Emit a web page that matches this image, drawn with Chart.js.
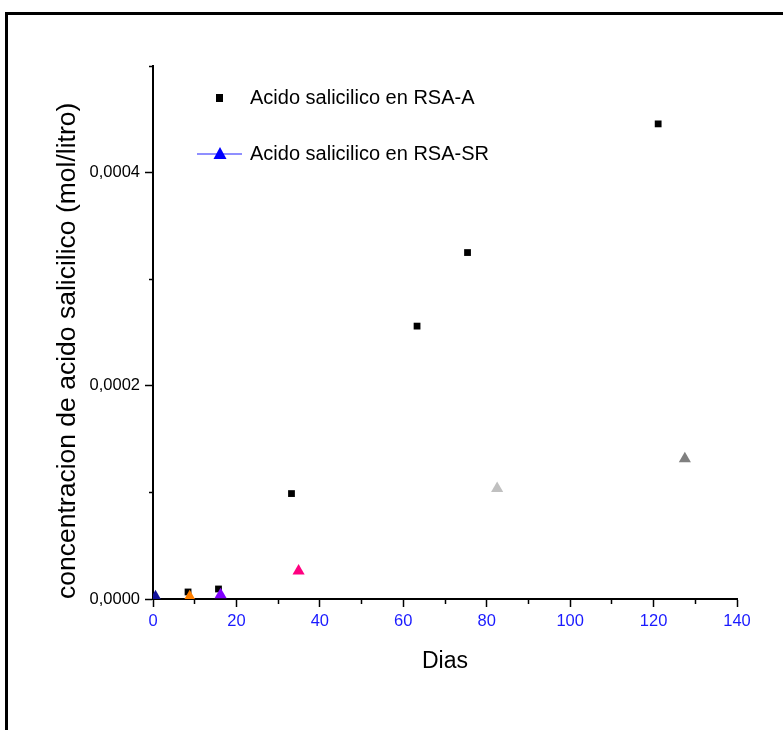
<!DOCTYPE html>
<html>
<head>
<meta charset="utf-8">
<script src="https://cdn.jsdelivr.net/npm/chart.js@4/dist/chart.umd.min.js"></script>
<style>
  html, body { margin: 0; padding: 0; background: #fff; overflow: hidden; }
  #frame {
    position: absolute; left: 5px; top: 12px; width: 900px; height: 900px;
    border-left: 3px solid #000; border-top: 3px solid #000;
  }
  #wrap { position: absolute; left: 0; top: 0; width: 783px; height: 730px; }
</style>
</head>
<body>
<div id="frame"></div>
<div id="wrap"><canvas id="grafico"></canvas></div>
<script>
// datos
const diasA = [8.4, 15.7, 33.2, 63.3, 75.4, 121.1];
const concA = [0.0000066, 0.0000094, 0.0000989, 0.000256, 0.000325, 0.0004457];

const diasSR = [0.6, 8.8, 16.2, 34.9, 82.5, 127.5];
const concSR = [0.000002, 0.000002, 0.0000041, 0.0000263, 0.0001036, 0.0001315];
const coloresSR = ['#10109a', '#ff8000', '#8000ff', '#ff0080', '#c0c0c0', '#808080'];

const etiquetas = ['Acido salicilico en RSA-A', 'Acido salicilico en RSA-SR'];
const tituloX = 'Dias';
const tituloY = 'concentracion de acido salicilico (mol/litro)';

const fuente = '"Liberation Sans", Arial, sans-serif';
const fuenteEstrecha = '"Liberation Sans Narrow", "Arial Narrow", "Liberation Sans", sans-serif';

function puntos(xs, ys) {
    let out = [];
    for (let i = 0; i < xs.length; i++) {
        out.push({x: xs[i], y: ys[i]});
    }
    return out;
}

// leyenda dentro del area, como en Origin
const leyendaPlugin = {
    id: 'leyenda',
    afterDraw(chart) {
        const ctx = chart.ctx;
        ctx.save();
        ctx.font = '20px ' + fuente;
        ctx.textBaseline = 'middle';
        ctx.fillStyle = '#000';
        ctx.fillRect(216, 94, 7, 8);
        ctx.fillText(chart.data.datasets[0].label, 250, 98);

        ctx.strokeStyle = '#6a6aff';
        ctx.lineWidth = 1.5;
        ctx.beginPath();
        ctx.moveTo(197, 154);
        ctx.lineTo(242, 154);
        ctx.stroke();
        ctx.fillStyle = '#0000ff';
        ctx.beginPath();
        ctx.moveTo(220, 147);
        ctx.lineTo(226.5, 159);
        ctx.lineTo(213.5, 159);
        ctx.closePath();
        ctx.fill();
        ctx.fillStyle = '#000';
        ctx.fillText(chart.data.datasets[1].label, 250, 154);
        ctx.restore();
    }
};

function esMenorY(ctx) {
    return ctx.tick && Math.round(ctx.tick.value / 0.0001) % 2 !== 0;
}
function esMenorX(ctx) {
    return ctx.tick && Math.round(ctx.tick.value / 10) % 2 !== 0;
}

let config = {
    type: 'scatter',
    data: {
        datasets: [{
            label: etiquetas[0],
            data: puntos(diasA, concA),
            pointStyle: 'rect',
            pointRadius: 4.8,
            pointHoverRadius: 4.8,
            backgroundColor: '#000',
            borderWidth: 0,
            order: 2
        }, {
            label: etiquetas[1],
            data: puntos(diasSR, concSR),
            pointStyle: 'triangle',
            pointRadius: 7,
            pointHoverRadius: 7,
            pointBackgroundColor: coloresSR,
            borderWidth: 0,
            order: 1
        }]
    },
    options: {
        responsive: true,
        maintainAspectRatio: false,
        animation: false,
        layout: { padding: { top: 66, right: 46, bottom: 51, left: 0 } },
        plugins: {
            legend: { display: false },
            tooltip: { enabled: false }
        },
        scales: {
            x: {
                type: 'linear',
                min: 0,
                max: 140,
                afterFit: (scale) => { scale.height = 80; },
                border: { display: true, color: '#000', width: 2 },
                grid: {
                    drawOnChartArea: false,
                    drawTicks: true,
                    tickLength: 8,
                    tickColor: '#000',
                    tickWidth: 1.5,
                    tickBorderDash: (ctx) => esMenorX(ctx) ? [4, 20] : [],
                    tickBorderDashOffset: 0
                },
                ticks: {
                    stepSize: 10,
                    autoSkip: false,
                    maxRotation: 0,
                    padding: 5,
                    color: '#1a1aff',
                    font: { family: fuenteEstrecha, size: 16.5 },
                    callback: (v) => Math.round(v) % 20 === 0 ? String(Math.round(v)) : ''
                },
                title: {
                    display: true,
                    text: tituloX,
                    color: '#000',
                    font: { family: fuente, size: 23 },
                    padding: { top: 0, bottom: 4 }
                }
            },
            y: {
                type: 'linear',
                min: 0,
                max: 0.0005,
                afterFit: (scale) => { scale.width = 153; },
                border: { display: true, color: '#000', width: 2 },
                grid: {
                    drawOnChartArea: false,
                    drawTicks: true,
                    tickLength: 8,
                    tickColor: '#000',
                    tickWidth: 1.5,
                    tickBorderDash: (ctx) => esMenorY(ctx) ? [4, 4] : [],
                    tickBorderDashOffset: (ctx) => esMenorY(ctx) ? 4 : 0
                },
                ticks: {
                    stepSize: 0.0001,
                    autoSkip: false,
                    padding: 5,
                    color: '#000',
                    font: { family: fuenteEstrecha, size: 16.5 },
                    callback: (v) => {
                        let n = Math.round(v / 0.0001);
                        return n % 2 === 0 ? (n * 0.0001).toFixed(4).replace('.', ',') : '';
                    }
                },
                title: {
                    display: true,
                    text: tituloY,
                    align: 'start',
                    color: '#000',
                    font: { family: fuente, size: 26.5 },
                    padding: { top: 52, bottom: 0 }
                }
            }
        }
    },
    plugins: [leyendaPlugin]
};

let contexto = document.getElementById('grafico').getContext('2d');
let grafico = new Chart(contexto, config);
</script>
</body>
</html>
